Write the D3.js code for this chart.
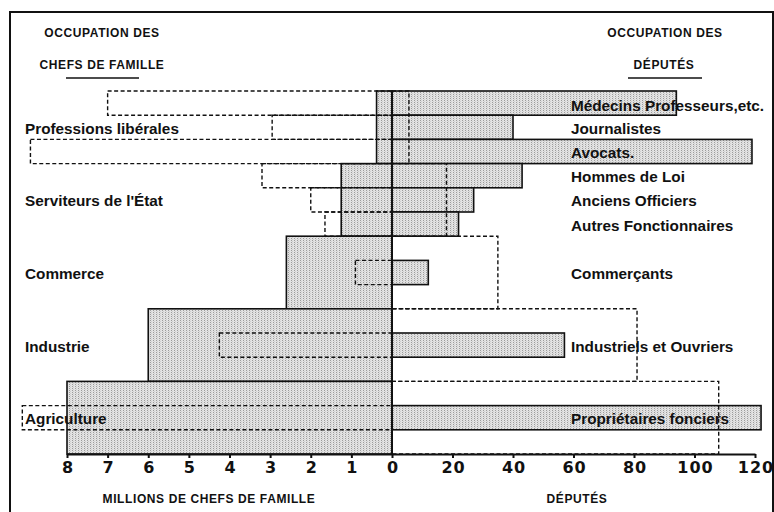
<!DOCTYPE html>
<html>
<head>
<meta charset="utf-8">
<script src="https://cdn.jsdelivr.net/npm/d3@7"></script>
<style>
  body { margin: 0; background: #fff; }
  svg { display: block; }
  .lbl { font-family: "Liberation Sans", Arial, sans-serif; font-weight: bold; font-size: 15.3px; fill: #111; }
  .cap { font-family: "Liberation Sans", Arial, sans-serif; font-weight: bold; font-size: 12px; letter-spacing: 0.6px; fill: #111; }
  .tick text { font-family: "DejaVu Sans", sans-serif; font-weight: bold; font-size: 16px; letter-spacing: 1px; fill: #111; }
</style>
</head>
<body>
<svg id="chart" width="774" height="512"></svg>
<script>
// groupes de chefs de famille (gauche, millions)
const groups = ["Professions libérales", "Serviteurs de l'État", "Commerce", "Industrie", "Agriculture"];
const chefsMillions = [0.38, 1.25, 2.6, 6.0, 8.0];
// meme longueur reportee a droite (en deputes)
const chefsEnDeputes = [5.6, 18, 35, 81, 108];

// occupation des deputes (droite)
const deputeLabels = ["Médecins Professeurs,etc.", "Journalistes", "Avocats.", "Hommes de Loi",
  "Anciens Officiers", "Autres Fonctionnaires", "Commerçants", "Industriels et Ouvriers", "Propriétaires fonciers"];
const deputeGroup = [0, 0, 0, 1, 1, 1, 2, 3, 4];
const deputes = [94, 40, 119, 43, 27, 22, 12, 57, 122];
// meme longueur reportee a gauche (en millions)
const deputesEnMillions = [7.0, 2.95, 8.9, 3.2, 2.0, 1.65, 0.9, 4.25, 9.1];

const millionTicks = [1, 2, 3, 4, 5, 6, 7, 8];
const deputeTicks = [0, 20, 40, 60, 80, 100, 120];

const svg = d3.select("#chart");
const x0 = 392;

const xL = d3.scaleLinear().domain([0, 8]).range([x0, 67]);
const xR = d3.scaleLinear().domain([0, 120]).range([x0, 755]);
const y = d3.scaleBand().domain(d3.range(15)).range([91, 454]);
const bw = y.bandwidth();

// position de chaque ligne de depute dans les 15 sous-lignes
const slot = deputeGroup.map((g, i) => {
  const members = deputeGroup.filter(d => d === g).length;
  const k = deputeGroup.slice(0, i).filter(d => d === g).length;
  return members === 3 ? g * 3 + k : g * 3 + 1;
});
const gTop = g => y(g * 3);
const gBot = g => y(g * 3 + 2) + bw;

const defs = svg.append("defs");
const pat = defs.append("pattern")
  .attr("id", "stipple")
  .attr("width", 3).attr("height", 2)
  .attr("patternUnits", "userSpaceOnUse");
pat.append("rect").attr("width", 3).attr("height", 2).attr("fill", "#e3e3e3");
pat.append("rect").attr("width", 1).attr("height", 1).attr("fill", "#9c9c9c");
pat.append("rect").attr("x", 1).attr("y", 1).attr("width", 1).attr("height", 1).attr("fill", "#cfcfcf");

// cadre
svg.append("rect")
  .attr("x", 10).attr("y", 12)
  .attr("width", 763).attr("height", 520)
  .attr("fill", "none").attr("stroke", "#111").attr("stroke-width", 2);

// blocs des chefs de famille (gauche)
svg.append("g").selectAll("rect")
  .data(groups)
  .enter().append("rect")
  .attr("x", (d, i) => xL(chefsMillions[i]))
  .attr("y", (d, i) => gTop(i))
  .attr("width", (d, i) => x0 - xL(chefsMillions[i]))
  .attr("height", (d, i) => gBot(i) - gTop(i))
  .attr("fill", "url(#stipple)")
  .attr("stroke", "#111").attr("stroke-width", 1.6);

// barres des deputes (droite)
svg.append("g").selectAll("rect")
  .data(deputes)
  .enter().append("rect")
  .attr("x", x0)
  .attr("y", (d, i) => y(slot[i]))
  .attr("width", d => xR(d) - x0)
  .attr("height", bw)
  .attr("fill", "url(#stipple)")
  .attr("stroke", "#111").attr("stroke-width", 1.6);

// reports en pointille a gauche
svg.append("g").selectAll("rect")
  .data(deputesEnMillions)
  .enter().append("rect")
  .attr("x", d => xL(d))
  .attr("y", (d, i) => y(slot[i]))
  .attr("width", d => x0 - xL(d))
  .attr("height", bw)
  .attr("fill", "none")
  .attr("stroke", "#111").attr("stroke-width", 1.4)
  .attr("stroke-dasharray", "4,2.5");

// reports en pointille a droite
svg.append("g").selectAll("rect")
  .data(chefsEnDeputes)
  .enter().append("rect")
  .attr("x", x0)
  .attr("y", (d, i) => gTop(i))
  .attr("width", d => xR(d) - x0)
  .attr("height", (d, i) => gBot(i) - gTop(i))
  .attr("fill", "none")
  .attr("stroke", "#111").attr("stroke-width", 1.4)
  .attr("stroke-dasharray", "4,2.5");

// ligne du zero
svg.append("line")
  .attr("x1", x0).attr("x2", x0)
  .attr("y1", 91).attr("y2", 454)
  .attr("stroke", "#111").attr("stroke-width", 2);

// libelles
svg.append("g").selectAll("text")
  .data(groups)
  .enter().append("text")
  .attr("class", "lbl")
  .attr("x", 25)
  .attr("y", (d, i) => (gTop(i) + gBot(i)) / 2 + 6.5)
  .text(d => d);

svg.append("g").selectAll("text")
  .data(deputeLabels)
  .enter().append("text")
  .attr("class", "lbl")
  .attr("x", 571)
  .attr("y", (d, i) => y(slot[i]) + bw / 2 + (i === 0 ? 8 : 6.5))
  .text(d => d);

// axes
const axisL = svg.append("g")
  .attr("transform", "translate(0,454)")
  .call(d3.axisBottom(xL).tickValues(millionTicks).tickSize(4).tickSizeOuter(0).tickPadding(4));
const axisR = svg.append("g")
  .attr("transform", "translate(0,454)")
  .call(d3.axisBottom(xR).tickValues(deputeTicks).tickSize(4).tickSizeOuter(0).tickPadding(4).tickFormat(d3.format("d")));
[axisL, axisR].forEach(a => {
  a.select(".domain").attr("stroke", "#111").attr("stroke-width", 2);
  a.selectAll(".tick line").attr("stroke", "#111").attr("stroke-width", 2);
  a.selectAll(".tick text").attr("dx", "0.5px");
});

// titres
const caps = [
  { t: "OCCUPATION DES", x: 102, y: 37 },
  { t: "CHEFS DE FAMILLE", x: 102, y: 69 },
  { t: "OCCUPATION DES", x: 665, y: 37 },
  { t: "DÉPUTÉS", x: 664, y: 69 },
  { t: "MILLIONS DE CHEFS DE FAMILLE", x: 209, y: 503 },
  { t: "DÉPUTÉS", x: 577, y: 503 }
];
svg.append("g").selectAll("text")
  .data(caps)
  .enter().append("text")
  .attr("class", "cap")
  .attr("text-anchor", "middle")
  .attr("x", d => d.x).attr("y", d => d.y)
  .text(d => d.t);

// soulignes
svg.append("line").attr("x1", 66).attr("x2", 139).attr("y1", 78).attr("y2", 78)
  .attr("stroke", "#111").attr("stroke-width", 1.6);
svg.append("line").attr("x1", 628).attr("x2", 702).attr("y1", 78).attr("y2", 78)
  .attr("stroke", "#111").attr("stroke-width", 1.6);
</script>
</body>
</html>
